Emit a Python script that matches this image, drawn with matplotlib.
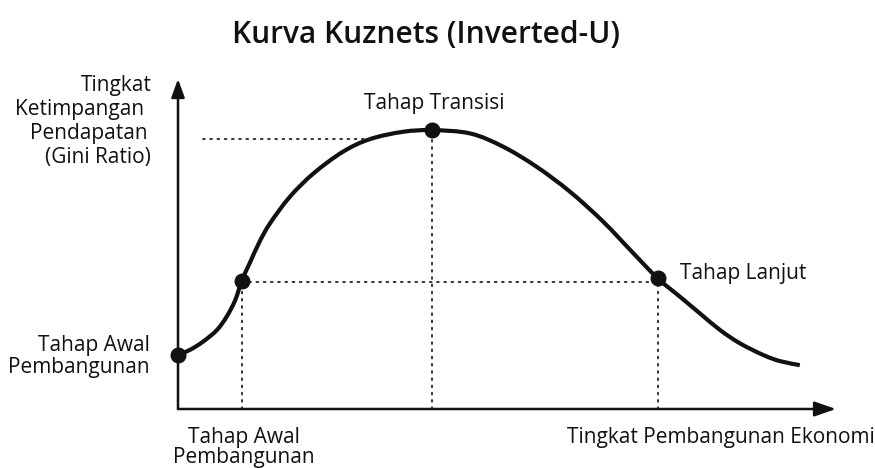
import matplotlib
matplotlib.use("Agg")
import matplotlib.pyplot as plt
from matplotlib.path import Path
from matplotlib.patches import PathPatch
import numpy as np

plt.rcParams['font.family'] = ['Open Sans', 'DejaVu Sans']

# Curve (x: development level, y: inequality), arbitrary 0-100 units
curve_x = [0.0, 1.8, 3.8, 5.9, 7.4, 8.7, 9.7, 10.9, 12.4, 14.0, 17.0, 20.6, 25.1, 29.2,
           34.2, 38.6, 44.4, 49.4, 54.5, 59.6, 64.6, 69.2, 72.9, 76.3, 79.3, 82.4,
           85.4, 88.9, 91.5, 94.5]
curve_y = [16.4, 17.9, 20.4, 23.9, 28.0, 33.0, 38.9, 44.2, 50.7, 56.3, 64.3, 71.4, 78.0, 81.8,
           84.0, 84.5, 83.5, 79.5, 73.4, 65.8, 56.8, 47.2, 39.6, 34.0, 29.0, 23.9,
           19.9, 16.4, 14.5, 13.3]

# Highlighted stages
stage_x = [0.0, 9.7, 38.6, 72.9]
stage_y = [16.4, 38.9, 84.5, 39.6]

# Reference (dotted) line levels
peak_ref_y = 81.8
peak_ref_x = [3.8, 29.2]
mid_ref_y = 38.5

title = "Kurva Kuznets (Inverted-U)"
ylabel_lines = ["Tingkat", "Ketimpangan", "Pendapatan", "(Gini Ratio)"]
xlabel = "Tingkat Pembangunan Ekonomi"

W, H = 875, 468
fig = plt.figure(figsize=(W / 100, H / 100), dpi=100)
ox, oy = 178, 409
x_end, y_end = 836, 79
ax = fig.add_axes([ox / W, 1 - oy / H, (x_end - ox) / W, (oy - y_end) / H])
ax.set_xlim(0, 100)
ax.set_ylim(0, 100)
ax.axis('off')

# Axes with arrows
ax.annotate('', xy=(100, 0), xytext=(0, 0), xycoords='data',
            arrowprops=dict(arrowstyle='-|>,head_length=1.3,head_width=0.45', lw=1.8,
                            color='#111111', shrinkA=0, shrinkB=0), annotation_clip=False)
ax.annotate('', xy=(0, 100), xytext=(0, 0), xycoords='data',
            arrowprops=dict(arrowstyle='-|>,head_length=1.1,head_width=0.4', lw=1.8,
                            color='#111111', shrinkA=0, shrinkB=0), annotation_clip=False)

dot_kw = dict(color='#222222', lw=1.3, linestyle=(0, (1, 3)), dash_capstyle='round')
ax.plot(peak_ref_x, [peak_ref_y, peak_ref_y], **dot_kw)
ax.plot([stage_x[1], stage_x[3]], [mid_ref_y, mid_ref_y], **dot_kw)
for sx, sy in zip(stage_x[1:], stage_y[1:]):
    ax.plot([sx, sx], [0, sy], **dot_kw)

# smooth curve through the read points (Catmull-Rom rendered as cubic Bezier path)
P = np.column_stack([curve_x, curve_y])
ext = np.vstack([P[0], P, P[-1]])
verts = [tuple(P[0])]
codes = [Path.MOVETO]
for i in range(1, len(ext) - 2):
    p0, p1, p2, p3 = ext[i - 1], ext[i], ext[i + 1], ext[i + 2]
    c1 = p1 + (p2 - p0) / 6.0
    c2 = p2 - (p3 - p1) / 6.0
    verts += [tuple(c1), tuple(c2), tuple(p2)]
    codes += [Path.CURVE4] * 3
ax.add_patch(PathPatch(Path(verts, codes), fill=False, lw=3.0, edgecolor='#111111',
                       capstyle='butt', joinstyle='round', clip_on=False))

ax.plot(stage_x, stage_y, 'o', color='#111111', markersize=10.5, clip_on=False)

# texts
fs = 15
fig.text(0.5 * (233 + 618) / W, 1 - 35 / H, title, ha='center', va='center',
         fontsize=21.5, fontweight='semibold', color='#111111')

yl_right = [152, 144, 148, 151]
yl_y = [86, 110, 134, 158]
for t, r, yy in zip(ylabel_lines, yl_right, yl_y):
    fig.text(r / W, 1 - yy / H, t, ha='right', va='center', fontsize=fs, color='#111111')

fig.text(150 / W, 1 - 345 / H, "Tahap Awal", ha='right', va='center', fontsize=fs, color='#111111')
fig.text(150 / W, 1 - 368 / H, "Pembangunan", ha='right', va='center', fontsize=fs, color='#111111')

fig.text(244 / W, 1 - 437 / H, "Tahap Awal", ha='center', va='center', fontsize=fs, color='#111111')
fig.text(244 / W, 1 - 458 / H, "Pembangunan", ha='center', va='center', fontsize=fs, color='#111111')

fig.text(567 / W, 1 - 438 / H, xlabel, ha='left', va='center', fontsize=fs, color='#111111')
fig.text(434 / W, 1 - 104 / H, "Tahap Transisi", ha='center', va='center', fontsize=fs, color='#111111')
fig.text(680 / W, 1 - 273 / H, "Tahap Lanjut", ha='left', va='center', fontsize=fs, color='#111111')

fig.savefig("out.png", dpi=100, facecolor='white')
